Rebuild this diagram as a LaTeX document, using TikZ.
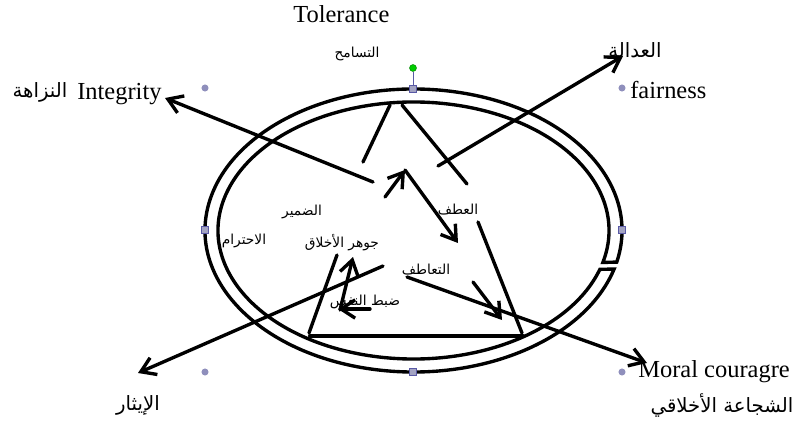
\documentclass[tikz,border=0pt]{standalone}
\usepackage{fontspec}
\setmainfont{Liberation Serif}
\newfontfamily\arabicfont[Script=Arabic]{DejaVu Sans}
\TeXXeTstate=1
\usetikzlibrary{arrows.meta, calc}
\newcommand{\artxt}[1]{{\arabicfont\beginR #1\endR}}
\tikzset{
  ln/.style={line width=2.4pt, line cap=round},
  arw/.style={ln, -{Straight Barb[length=10pt, width=13pt]}},
  eng/.style={font=\fontsize{17.4}{20}\selectfont, inner sep=0pt},
  bigar/.style={font=\arabicfont\fontsize{14}{16}\selectfont, inner sep=0pt},
  smallar/.style={font=\arabicfont\fontsize{9.8}{11}\selectfont, inner sep=0pt},
  dot/.style={circle, fill=blue!25!gray!70, inner sep=0pt, minimum size=5pt},
  grip/.style={rectangle, fill=blue!20!gray!60, draw=blue!30!gray, line width=0.4pt, inner sep=0pt, minimum size=5pt}
}
\begin{document}
\begin{tikzpicture}[x=0.025cm, y=0.025cm]
\useasboundingbox (0,0) rectangle (795,-426);

\coordinate (c) at (413.5,-230.5);

% ring with a small gap at the right
\draw[ln] (c) ++(-12.9:208.5 and 141.5) arc[start angle=-12.9, end angle=344.2, x radius=208.5, y radius=141.5]
  -- ($(c)+(342.4:195.5 and 128.5)$) arc[start angle=342.4, end angle=-14.4, x radius=195.5, y radius=128.5] -- cycle;

% triangle
\coordinate (t1a) at (390,-105); \coordinate (t1b) at (363,-162);
\coordinate (t2a) at (402,-105); \coordinate (t2b) at (467,-184);
\coordinate (t3a) at (478,-222); \coordinate (t3b) at (522,-333);
\coordinate (t4a) at (337,-255); \coordinate (t4b) at (309,-333);
\coordinate (b1) at (310,-336);  \coordinate (b2) at (523,-336);

\draw[ln] (t1a) -- (t1b);
\draw[ln] (t2a) -- (t2b);
\draw[ln] (t3a) -- (t3b);
\draw[ln] (t4a) -- (t4b);
\draw[ln, line width=2.9pt] (b1) -- (b2);

% arrows
\coordinate (integ) at (373,-182);  \coordinate (integtip) at (165,-98);
\coordinate (fair) at (438,-166);   \coordinate (fairtip) at (623,-56);
\coordinate (up) at (385,-197);     \coordinate (peak) at (405,-170);
\coordinate (downtip) at (458,-243);
\coordinate (ith) at (383,-266);    \coordinate (ithtip) at (138,-373);
\coordinate (jaw) at (340,-310);    \coordinate (jawtip) at (353,-257);
\coordinate (dabt) at (370,-309);   \coordinate (dabttip) at (338,-309);
\coordinate (mor) at (407,-277);    \coordinate (mortip) at (647,-363);
\coordinate (sh) at (473,-282);     \coordinate (shtip) at (502,-320);

\draw[arw] (integ) -- (integtip);
\draw[arw] (fair) -- (fairtip);
\draw[arw] (up) -- (peak);
\draw[arw] (peak) -- (downtip);
\draw[arw] (ith) -- (ithtip);
\draw[arw] (jaw) -- (jawtip);
\draw[arw] (dabt) -- (dabttip);
\draw[arw] (mor) -- (mortip);
\draw[arw] (sh) -- (shtip);

% outer labels
\node[eng, anchor=base west] (tol) at (293,-23) {Tolerance};
\node[eng, anchor=base west] (int) at (77,-100) {Integrity};
\node[eng, anchor=base west] (fairn) at (630,-99) {fairness};
\node[eng, anchor=base west] (moral) at (638,-377) {Moral couragre};

\node[bigar] (nazaha) at (40,-92) {\artxt{النزاهة}};
\node[bigar] (adala) at (635,-50) {\artxt{العدالة}};
\node[bigar] (shaja) at (722,-406) {\artxt{الشجاعة الأخلاقي}};
\node[bigar] (ithar) at (138,-405) {\artxt{الإيثار}};

% inner labels
\node[smallar] (tasamuh) at (357,-54) {\artxt{التسامح}};
\node[smallar] (atf) at (458,-210) {\artxt{العطف}};
\node[smallar] (damir) at (302,-212) {\artxt{الضمير}};
\node[smallar] (ihtiram) at (244,-241) {\artxt{الاحترام}};
\node[smallar] (jawhar) at (342,-243) {\artxt{جوهر الأخلاق}};
\node[smallar] (dabtn) at (365,-302) {\artxt{ضبط النفس}};
\node[smallar] (taatuf) at (426,-270) {\artxt{التعاطف}};

% selection handles
\node[dot] (d1) at (205,-88) {};
\node[dot] (d2) at (622,-88) {};
\node[dot] (d3) at (205,-372) {};
\node[dot] (d4) at (622,-372) {};
\node[grip] (gtop) at (413,-89) {};
\node[grip] (gleft) at (205,-230) {};
\node[grip] (gright) at (622,-230) {};
\node[grip] (gbot) at (413,-372) {};
\node[circle, fill=green!80!black, draw=green!50!black, line width=0.3pt, inner sep=0pt, minimum size=5pt] (rot) at (413,-68) {};
\draw[blue!30!gray, line width=0.6pt] (rot) -- (gtop);
\end{tikzpicture}
\end{document}
